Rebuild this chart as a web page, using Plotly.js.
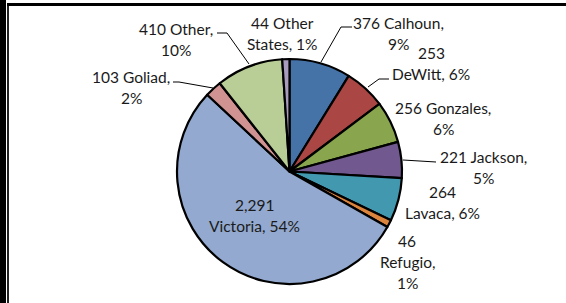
<!DOCTYPE html>
<html>
<head>
<meta charset="utf-8">
<script src="https://cdn.plot.ly/plotly-3.0.1.min.js"></script>
<style>html,body{margin:0;padding:0;background:#fff;}#chart{width:566px;height:303px;}</style>
</head>
<body>
<div id="chart"></div>
<script>
// ---- data ----
const categories = ["Calhoun", "DeWitt", "Gonzales", "Jackson", "Lavaca", "Refugio", "Victoria", "Goliad", "Other", "Other States"];
const counts = [376, 253, 256, 221, 264, 46, 2291, 103, 410, 44];
const sliceColors = ["#4572A7", "#AA4643", "#89A54E", "#71588F", "#4198AF", "#DB843D", "#93A9CF", "#D19392", "#B9CD96", "#A99BBD"];

// ---- layout helpers (pixel positions of labels, not data) ----
const W = 566, H = 303;
const px = x => x / W;
const py = y => 1 - y / H;
// label layout: [centerX, firstLineCenterY, breakStyle]
const labelLayout = [
  [398, 23, "A"], [431, 53, "B"], [443, 108, "A"], [483, 157, "A"], [442, 192, "B"],
  [407, 241, "C"], [254, 205, "B"], [131, 77, "A"], [176, 29, "A"], [282, 23, "D"]
];
const linePitch = 21;
// leader lines in pixels
const leaders = [
  [[352, 27], [341, 27], [321, 62]],
  [[389, 79], [379, 79], [368, 87]],
  [[436, 162], [403, 160]],
  [[173, 82], [179, 82], [213, 88]],
  [[217, 33], [227, 33], [249, 64]]
];

const total = counts.reduce((a, b) => a + b, 0);
const fmt = v => v.toLocaleString("en-US");
function labelLines(i) {
  const v = fmt(counts[i]);
  const name = categories[i];
  const p = Math.round(counts[i] / total * 100) + "%";
  const style = labelLayout[i][2];
  if (style === "A") return [v + " " + name + ",", p];
  if (style === "B") return [v, name + ", " + p];
  if (style === "C") return [v, name + ",", p];
  const w = name.split(" ");
  return [v + " " + w[0], w.slice(1).join(" ") + ", " + p];
}

const annotations = [];
categories.forEach((c, i) => {
  const [cx, cy] = labelLayout[i];
  labelLines(i).forEach((t, k) => {
    annotations.push({
      text: t, x: px(cx), y: py(cy + k * linePitch), xref: "paper", yref: "paper",
      xanchor: "center", yanchor: "middle", showarrow: false,
      font: {family: "Lato, 'Open Sans', sans-serif", size: 15.5, color: "#1a1a1a"}
    });
  });
});

const shapes = leaders.map(pts => ({
  type: "path", xref: "paper", yref: "paper",
  path: pts.map((p, k) => (k ? "L" : "M") + px(p[0]) + "," + py(p[1])).join(" "),
  line: {color: "#000", width: 1}
}));
// frame
shapes.push({type: "rect", xref: "paper", yref: "paper", x0: 0, x1: px(6), y0: 0, y1: 1, fillcolor: "#000", line: {width: 0}});
shapes.push({type: "line", xref: "paper", yref: "paper", x0: px(8), x1: px(8), y0: py(3), y1: 0, line: {color: "#222", width: 2}});
shapes.push({type: "line", xref: "paper", yref: "paper", x0: px(7), x1: 1, y0: py(4.5), y1: py(4.5), line: {color: "#000", width: 3}});

const cX = 289.5, cY = 171.5, R = 112.5;
const trace = {
  type: "pie",
  labels: categories,
  values: counts,
  sort: false,
  direction: "clockwise",
  rotation: 0,
  textinfo: "none",
  hoverinfo: "skip",
  marker: {colors: sliceColors, line: {color: "#000", width: 2.2}},
  domain: {x: [px(cX - R), px(cX + R)], y: [py(cY + R), py(cY - R)]}
};

Plotly.newPlot("chart", [trace], {
  width: W, height: H,
  margin: {l: 0, r: 0, t: 0, b: 0},
  paper_bgcolor: "#fff",
  showlegend: false,
  annotations: annotations,
  shapes: shapes
}, {staticPlot: true});
</script>
</body>
</html>
